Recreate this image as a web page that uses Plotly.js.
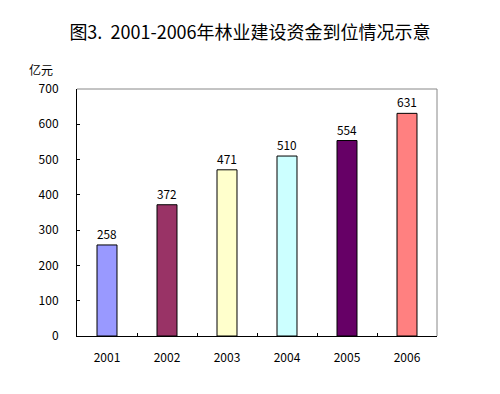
<!DOCTYPE html>
<html>
<head>
<meta charset="utf-8">
<script src="https://cdn.plot.ly/plotly-3.0.1.min.js"></script>
<style>html,body{margin:0;padding:0;background:#fff;}</style>
</head>
<body>
<div id="chart" style="width:500px;height:394px;"></div>
<script>
const years = ['2001', '2002', '2003', '2004', '2005', '2006'];
const funds = [258, 372, 471, 510, 554, 631];
const barColors = ['#9999FF', '#993366', '#FFFFCC', '#CCFFFF', '#660066', '#FF8080'];
const yTicks = [0, 100, 200, 300, 400, 500, 600, 700];
const titleText = '图3.  2001-2006年林业建设资金到位情况示意';
const unitText = '亿元';

const font = 'SimSun, "Noto Sans CJK SC", "DejaVu Sans", sans-serif';

const trace = {
  type: 'bar',
  x: years,
  y: funds,
  text: funds.map(String),
  textposition: 'outside',
  textfont: {family: font, size: 12, color: '#000'},
  cliponaxis: false,
  marker: {color: barColors, line: {color: '#000', width: 1}},
  hoverinfo: 'none'
};

const layout = {
  width: 500, height: 394,
  margin: {l: 76.7, r: 63.3, t: 89.3, b: 58},
  paper_bgcolor: '#fff', plot_bgcolor: '#fff',
  showlegend: false,
  bargap: 0.667,
  title: {text: titleText, x: 0.5, xanchor: 'center', y: 0.918, yanchor: 'middle',
          font: {family: '"Noto Sans CJK SC", sans-serif', size: 18, color: '#000'}},
  xaxis: {
    type: 'category',
    tickson: 'boundaries',
    ticks: 'inside', ticklen: 3, tickcolor: '#000',
    showline: true, linecolor: '#000', linewidth: 1,
    showgrid: false, zeroline: false,
    tickfont: {family: font, size: 12, color: '#000'},
    ticklabelstandoff: 11,
    mirror: false
  },
  yaxis: {
    range: [0, 700],
    tickvals: yTicks,
    ticktext: yTicks.map(String),
    ticks: 'inside', ticklen: 3, tickcolor: '#000',
    showline: true, linecolor: '#000', linewidth: 1,
    showgrid: false, zeroline: false,
    tickfont: {family: font, size: 12, color: '#000'},
    ticklabelstandoff: 15
  },
  shapes: [
    {type: 'line', xref: 'paper', yref: 'paper', x0: 0, x1: 1, y0: 1, y1: 1, line: {color: '#888', width: 1}},
    {type: 'line', xref: 'paper', yref: 'paper', x0: 1, x1: 1, y0: 0, y1: 1, line: {color: '#888', width: 1}}
  ],
  annotations: [
    {text: unitText, xref: 'paper', yref: 'paper', x: -0.1, y: 1.08, xanchor: 'center', yanchor: 'middle',
     showarrow: false, font: {family: font, size: 12, color: '#000'}}
  ]
};

Plotly.newPlot('chart', [trace], layout, {staticPlot: true, displayModeBar: false});
</script>
</body>
</html>
